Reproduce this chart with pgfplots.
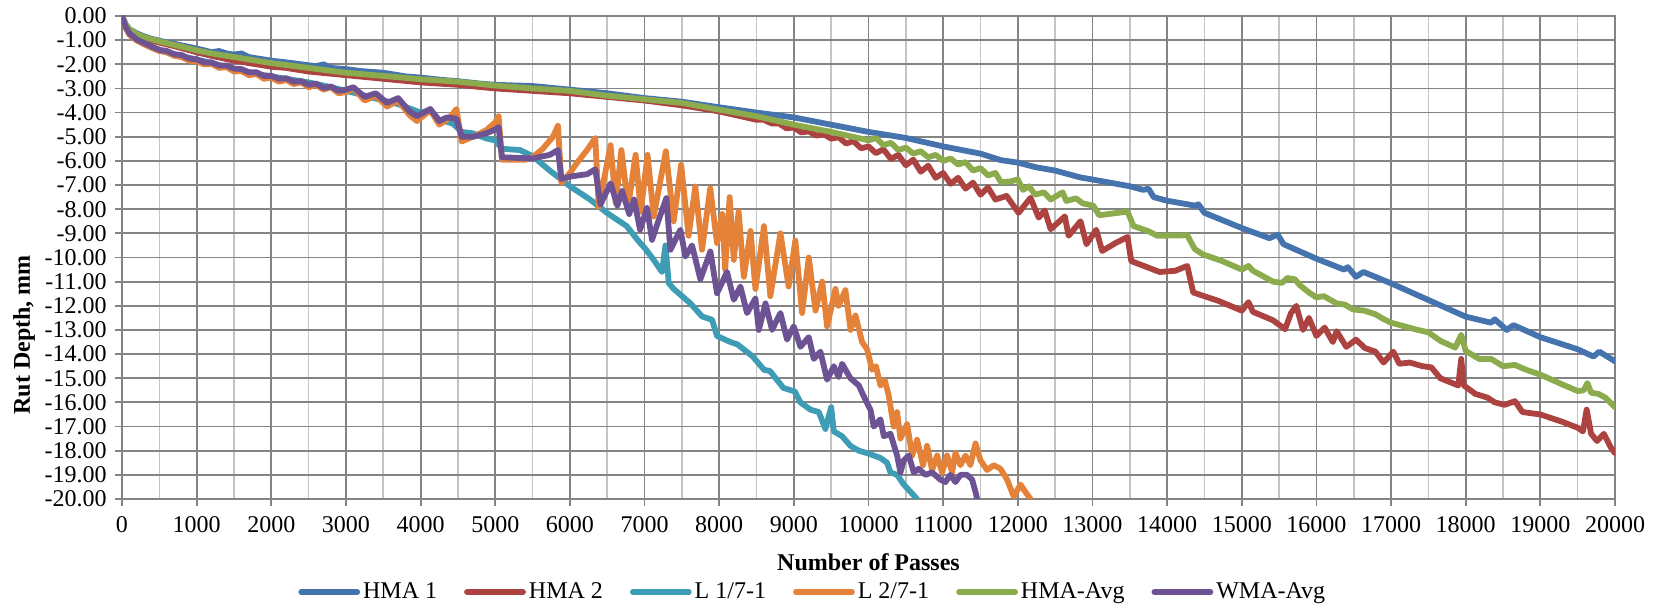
\documentclass[border=0pt,12pt]{standalone}
\usepackage{fontspec}
\setmainfont{Liberation Serif}
\usepackage{pgfplots}
\pgfplotsset{compat=1.18}
\definecolor{cA}{HTML}{4573AD}
\definecolor{cB}{HTML}{AC4341}
\definecolor{cC}{HTML}{3E9CB4}
\definecolor{cD}{HTML}{E4823A}
\definecolor{cE}{HTML}{8BAB4D}
\definecolor{cF}{HTML}{6D5393}
\definecolor{gmaj}{HTML}{848484}
\definecolor{gmin}{HTML}{C4C4C4}
\tikzset{ser/.style={#1, line width=2.9pt, line join=round, line cap=round, mark=none}}
\begin{document}
\begin{tikzpicture}
\begin{axis}[name=ax, at={(0,0)}, anchor=south west,
  scale only axis, width=746.5pt, height=241.5pt,
  xmin=0, xmax=20000, ymin=-20, ymax=0,
  xtick={0,1000,...,20000}, ytick={-20,-19,...,0},
  minor x tick num=1, minor tick length=0pt,
  xmajorgrids, ymajorgrids, xminorgrids,
  major grid style={gmaj, line width=0.9pt},
  minor grid style={gmin, line width=0.8pt},
  axis line style={gmaj, line width=0.9pt},
  tick style={gmaj, line width=0.9pt},
  tick align=outside, major tick length=3.5pt,
  xtick pos=bottom, ytick pos=left,
  scaled x ticks=false, scaled y ticks=false,
  /pgf/number format/assume math mode=true,
  xticklabel={\pgfmathprintnumber[1000 sep={}]{\tick}},
  yticklabel={\pgfmathprintnumber[fixed, fixed zerofill, precision=2]{\tick}},
  xticklabel style={yshift=-1pt},
  xlabel={\textbf{Number of Passes}},
  ylabel={\textbf{Rut Depth, mm}},
  xlabel style={at={(axis description cs:0.5,0)}, anchor=center, yshift=-31.5pt},
  ylabel style={at={(axis description cs:-0.0656,0.34)}, anchor=center},
  legend style={at={(0.463,0)}, anchor=center, yshift=-46.5pt, draw=none, fill=none,
    legend columns=-1, /tikz/every even column/.append style={column sep=12pt},
    nodes={inner xsep=1.5pt, inner ysep=1pt}},
  legend image code/.code={\draw[#1] (0pt,0pt) -- (28pt,0pt);},
]
\addplot[ser=cA] coordinates {
(0,0) (50,-0.35) (100,-0.55) (200,-0.72) (300,-0.85) (400,-0.95) (500,-1.02) (600,-1.1) (700,-1.15) (800,-1.22) (900,-1.28) (1000,-1.35) (1100,-1.42) (1200,-1.5) (1300,-1.45) (1400,-1.55) (1500,-1.6) (1600,-1.55) (1700,-1.7) (1800,-1.75) (2000,-1.85) (2200,-1.92) (2400,-2.0) (2600,-2.08) (2700,-2.0) (2800,-2.15) (3000,-2.2) (3200,-2.28) (3500,-2.35) (3800,-2.5) (4000,-2.55) (4300,-2.65) (4500,-2.7) (4800,-2.8) (5000,-2.85) (5500,-2.9) (6000,-3.05) (6500,-3.2) (7000,-3.4) (7500,-3.55) (8000,-3.78) (8500,-4.0) (9000,-4.2) (9500,-4.5) (10000,-4.8) (10500,-5.05) (11000,-5.4) (11500,-5.7) (11775,-5.97) (12000,-6.07) (12250,-6.27) (12500,-6.4) (12830,-6.68) (13000,-6.77) (13500,-7.05) (13680,-7.2) (13750,-7.15) (13820,-7.5) (14000,-7.65) (14370,-7.85) (14420,-7.8) (14500,-8.15) (15000,-8.78) (15370,-9.2) (15480,-9.05) (15560,-9.45) (16000,-10.05) (16370,-10.5) (16420,-10.4) (16530,-10.8) (16630,-10.6) (17000,-11.07) (17500,-11.76) (18000,-12.45) (18340,-12.7) (18390,-12.56) (18550,-13.0) (18640,-12.8) (19000,-13.3) (19500,-13.8) (19710,-14.1) (19790,-13.9) (20000,-14.3)
};
\addlegendentry{HMA 1}
\addplot[ser=cB] coordinates {
(0,0) (50,-0.4) (100,-0.6) (200,-0.8) (300,-0.92) (400,-1.02) (500,-1.1) (700,-1.25) (1000,-1.5) (1200,-1.65) (1500,-1.85) (1800,-2.0) (2000,-2.1) (2200,-2.15) (2500,-2.3) (3000,-2.45) (3500,-2.6) (4000,-2.75) (4500,-2.85) (5000,-3.0) (5500,-3.1) (6000,-3.2) (6500,-3.35) (7000,-3.5) (7500,-3.7) (8000,-3.95) (8500,-4.3) (8600,-4.3) (8700,-4.45) (8800,-4.45) (8900,-4.65) (9000,-4.62) (9100,-4.82) (9200,-4.78) (9300,-4.95) (9400,-4.9) (9500,-5.08) (9600,-5.02) (9700,-5.28) (9800,-5.18) (9900,-5.48) (10000,-5.4) (10100,-5.68) (10200,-5.52) (10300,-5.92) (10400,-5.75) (10500,-6.18) (10600,-5.95) (10700,-6.45) (10800,-6.2) (10900,-6.7) (11000,-6.5) (11100,-6.95) (11200,-6.7) (11300,-7.15) (11400,-6.9) (11500,-7.4) (11600,-7.1) (11700,-7.6) (11850,-7.45) (12010,-8.15) (12170,-7.53) (12280,-8.35) (12360,-8.05) (12440,-8.83) (12630,-8.3) (12680,-9.1) (12840,-8.5) (12920,-9.45) (13050,-8.85) (13130,-9.73) (13310,-9.4) (13470,-9.15) (13520,-10.15) (13900,-10.6) (14110,-10.55) (14270,-10.35) (14350,-11.45) (14690,-11.8) (15000,-12.2) (15090,-11.85) (15150,-12.25) (15420,-12.6) (15580,-12.97) (15660,-12.3) (15730,-12.0) (15820,-13.0) (15900,-12.5) (16000,-13.25) (16110,-12.9) (16220,-13.5) (16270,-13.05) (16400,-13.7) (16530,-13.4) (16650,-13.75) (16790,-13.9) (16900,-14.35) (17030,-13.9) (17110,-14.4) (17250,-14.35) (17420,-14.5) (17540,-14.55) (17660,-15.0) (17820,-15.2) (17900,-15.3) (17940,-14.2) (17975,-15.3) (18130,-15.65) (18290,-15.8) (18390,-16.0) (18520,-16.1) (18660,-15.95) (18760,-16.4) (19000,-16.5) (19290,-16.8) (19500,-17.05) (19570,-17.2) (19620,-16.3) (19680,-17.3) (19760,-17.6) (19850,-17.3) (19950,-17.9) (20000,-18.1)
};
\addlegendentry{HMA 2}
\addplot[ser=cC] coordinates {
(0,0) (50,-0.45) (100,-0.72) (200,-0.95) (250,-1.07) (400,-1.3) (500,-1.42) (700,-1.6) (1000,-1.8) (1200,-1.95) (1500,-2.2) (1800,-2.4) (2000,-2.5) (2300,-2.65) (2500,-2.75) (2800,-2.95) (3000,-3.1) (3200,-3.25) (3500,-3.5) (3700,-3.65) (4000,-4.0) (4130,-3.9) (4250,-4.3) (4430,-4.45) (4550,-4.8) (4700,-4.86) (4880,-5.07) (5000,-5.15) (5090,-5.5) (5330,-5.55) (5500,-5.8) (5730,-6.4) (5840,-6.66) (6000,-7.05) (6270,-7.6) (6500,-8.16) (6760,-8.7) (6940,-9.4) (7000,-9.6) (7123,-10.1) (7234,-10.6) (7280,-9.5) (7324,-11.06) (7390,-11.3) (7614,-11.9) (7770,-12.44) (7904,-12.58) (7971,-13.25) (8150,-13.5) (8245,-13.6) (8450,-14.1) (8600,-14.65) (8680,-14.7) (8859,-15.4) (9013,-15.55) (9088,-16.0) (9222,-16.3) (9334,-16.4) (9423,-17.1) (9500,-16.2) (9535,-17.2) (9646,-17.4) (9758,-17.8) (9870,-18.0) (9981,-18.1) (10160,-18.3) (10249,-18.5) (10294,-18.9) (10383,-19.0) (10472,-19.4) (10562,-19.7) (10650,-20)
};
\addlegendentry{L 1/7-1}
\addplot[ser=cD] coordinates {
(0,0) (50,-0.5) (100,-0.78) (200,-1.02) (300,-1.18) (400,-1.32) (500,-1.45) (600,-1.5) (700,-1.65) (800,-1.7) (900,-1.85) (1000,-1.88) (1100,-2.0) (1200,-1.98) (1300,-2.15) (1400,-2.12) (1500,-2.3) (1600,-2.28) (1700,-2.45) (1800,-2.4) (1900,-2.6) (2000,-2.55) (2100,-2.72) (2200,-2.65) (2300,-2.82) (2400,-2.75) (2500,-2.95) (2600,-2.85) (2700,-3.05) (2800,-2.95) (2900,-3.2) (3000,-3.15) (3100,-3.0) (3250,-3.5) (3400,-3.3) (3550,-3.75) (3700,-3.5) (3850,-4.1) (3950,-4.35) (4130,-3.9) (4250,-4.5) (4350,-4.3) (4420,-4.1) (4480,-3.85) (4550,-5.2) (4700,-5.0) (4880,-4.73) (5000,-4.4) (5045,-4.15) (5090,-5.95) (5410,-5.95) (5500,-5.85) (5636,-5.5) (5773,-5.0) (5840,-4.55) (5886,-6.9) (6000,-6.5) (6090,-6.1) (6230,-5.55) (6340,-5.05) (6386,-7.9) (6545,-5.35) (6614,-7.75) (6690,-5.55) (6780,-7.9) (6880,-5.75) (6950,-8.1) (7040,-5.75) (7123,-8.3) (7285,-5.6) (7390,-8.5) (7490,-6.16) (7590,-9.1) (7680,-7.06) (7770,-9.68) (7880,-7.13) (7970,-9.4) (8040,-8.2) (8080,-10.5) (8140,-7.5) (8195,-10.1) (8260,-8.1) (8330,-10.8) (8420,-8.9) (8485,-11.3) (8600,-8.7) (8685,-11.6) (8820,-9.0) (8930,-11.2) (9020,-9.3) (9110,-12.3) (9200,-10.0) (9290,-12.2) (9380,-11.0) (9445,-12.85) (9557,-11.3) (9600,-12.0) (9690,-11.35) (9760,-13.0) (9825,-12.4) (9914,-13.5) (9981,-13.8) (10048,-14.65) (10100,-14.5) (10160,-15.3) (10220,-15.1) (10270,-15.7) (10338,-17.0) (10383,-16.4) (10428,-17.5) (10517,-16.9) (10585,-18.2) (10651,-17.55) (10731,-18.6) (10785,-17.8) (10852,-18.8) (10920,-18.2) (10986,-18.9) (11053,-18.2) (11120,-18.9) (11165,-18.1) (11232,-18.6) (11298,-18.2) (11365,-18.6) (11433,-17.7) (11500,-18.4) (11589,-18.8) (11678,-18.6) (11768,-18.75) (11857,-19.2) (11946,-19.9) (12036,-19.4) (12100,-19.7) (12170,-20)
};
\addlegendentry{L 2/7-1}
\addplot[ser=cE] coordinates {
(0,0) (50,-0.35) (100,-0.55) (200,-0.75) (300,-0.88) (500,-1.05) (700,-1.2) (1000,-1.42) (1200,-1.55) (1500,-1.7) (1800,-1.85) (2000,-1.95) (2500,-2.15) (3000,-2.35) (3500,-2.48) (4000,-2.62) (4500,-2.72) (5000,-2.88) (5500,-3.0) (6000,-3.1) (6500,-3.3) (7000,-3.45) (7500,-3.6) (8000,-3.88) (8500,-4.15) (9000,-4.5) (9500,-4.8) (10000,-5.15) (10100,-5.05) (10200,-5.35) (10300,-5.25) (10400,-5.55) (10500,-5.45) (10600,-5.7) (10700,-5.6) (10800,-5.85) (10900,-5.75) (11000,-6.0) (11100,-5.9) (11200,-6.15) (11300,-6.05) (11400,-6.4) (11500,-6.3) (11600,-6.6) (11700,-6.5) (11775,-6.88) (11900,-6.85) (12000,-6.77) (12070,-7.2) (12150,-7.05) (12230,-7.4) (12350,-7.3) (12440,-7.6) (12600,-7.3) (12650,-7.66) (12780,-7.55) (12870,-7.76) (13010,-7.85) (13090,-8.25) (13470,-8.1) (13550,-8.7) (13740,-8.9) (13870,-9.1) (14270,-9.08) (14370,-9.65) (14480,-9.87) (14740,-10.15) (15000,-10.5) (15090,-10.35) (15150,-10.55) (15420,-11.0) (15540,-11.05) (15610,-10.85) (15710,-10.9) (15780,-11.15) (15900,-11.45) (16000,-11.65) (16100,-11.6) (16270,-11.9) (16380,-11.95) (16490,-12.15) (16640,-12.2) (16790,-12.35) (16900,-12.55) (17000,-12.7) (17320,-12.97) (17500,-13.1) (17660,-13.45) (17860,-13.73) (17940,-13.2) (18000,-13.87) (18180,-14.2) (18340,-14.2) (18500,-14.5) (18660,-14.45) (18810,-14.65) (19000,-14.85) (19290,-15.25) (19500,-15.53) (19580,-15.5) (19630,-15.2) (19680,-15.6) (19780,-15.65) (19870,-15.8) (20000,-16.2)
};
\addlegendentry{HMA-Avg}
\addplot[ser=cF] coordinates {
(0,0) (50,-0.45) (100,-0.72) (200,-0.98) (300,-1.12) (400,-1.27) (500,-1.4) (600,-1.45) (700,-1.58) (800,-1.62) (900,-1.76) (1000,-1.8) (1100,-1.92) (1200,-1.92) (1300,-2.05) (1400,-2.05) (1500,-2.18) (1600,-2.2) (1700,-2.33) (1800,-2.33) (1900,-2.48) (2000,-2.48) (2100,-2.6) (2200,-2.58) (2300,-2.72) (2400,-2.7) (2500,-2.85) (2600,-2.8) (2700,-2.98) (2800,-2.92) (2900,-3.1) (3000,-3.05) (3100,-2.95) (3250,-3.35) (3400,-3.2) (3550,-3.6) (3700,-3.4) (3850,-3.95) (3950,-4.15) (4130,-3.85) (4250,-4.35) (4350,-4.2) (4480,-4.25) (4550,-5.0) (4700,-5.0) (4880,-4.86) (5000,-4.7) (5045,-4.6) (5090,-5.85) (5500,-5.9) (5730,-5.75) (5840,-5.55) (5886,-6.75) (6000,-6.65) (6230,-6.55) (6340,-6.35) (6410,-7.8) (6545,-6.93) (6636,-7.85) (6700,-7.25) (6795,-8.2) (6860,-7.6) (6940,-8.85) (7033,-7.95) (7100,-9.27) (7190,-8.44) (7292,-7.54) (7346,-9.68) (7480,-8.85) (7547,-9.96) (7636,-9.5) (7748,-10.9) (7882,-9.75) (7971,-11.48) (8105,-10.6) (8195,-11.75) (8284,-11.2) (8373,-12.3) (8485,-11.7) (8530,-13.0) (8620,-11.9) (8708,-13.0) (8820,-12.3) (8909,-13.4) (8998,-12.85) (9088,-13.7) (9200,-13.3) (9267,-14.2) (9356,-13.9) (9445,-15.06) (9535,-14.5) (9600,-14.95) (9646,-14.4) (9758,-15.0) (9870,-15.3) (9960,-15.9) (10026,-16.3) (10070,-17.0) (10160,-16.7) (10205,-17.4) (10294,-17.3) (10383,-18.2) (10428,-18.9) (10472,-18.4) (10540,-18.2) (10606,-18.9) (10673,-18.75) (10763,-19.0) (10852,-18.9) (10963,-19.2) (11030,-19.3) (11097,-19.0) (11165,-19.3) (11232,-19.0) (11321,-19.0) (11388,-19.2) (11433,-19.7) (11455,-20)
};
\addlegendentry{WMA-Avg}
\end{axis}
\pgfresetboundingbox
\path[use as bounding box] ([xshift=-61pt,yshift=-52.5pt]ax.south west) rectangle ([xshift=22pt,yshift=8pt]ax.north east);
\end{tikzpicture}
\end{document}
